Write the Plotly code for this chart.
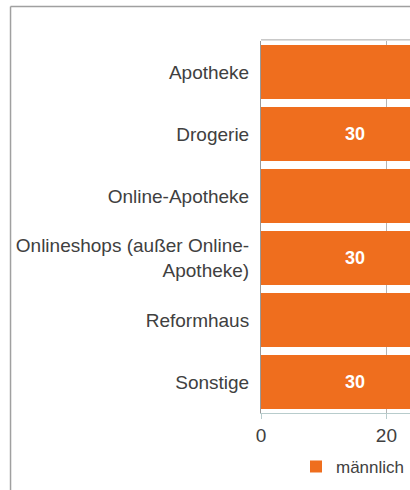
import plotly.graph_objects as go

categories = ["Apotheke", "Drogerie", "Online-Apotheke",
              "Onlineshops (außer Online-<br>Apotheke)", "Reformhaus", "Sonstige"]
maennlich = [30, 30, 30, 30, 30, 30]
bar_text = ["", "30", "", "30", "", "30"]
x_ticks = [0, 20]

fig = go.Figure()
fig.add_trace(go.Bar(
    y=categories, x=maennlich, orientation="h", name="männlich",
    marker=dict(color="#EF6E1E", line=dict(width=0)),
    text=bar_text, textposition="inside", insidetextanchor="middle",
    textfont=dict(family="Liberation Sans", size=18, color="white", weight="bold"),
    cliponaxis=True,
))

fig.update_layout(
    width=410, height=490,
    margin=dict(l=261, r=0, t=41, b=77),
    paper_bgcolor="white", plot_bgcolor="white",
    bargap=0.13,
    font=dict(family="Liberation Sans", size=19, color="#404040"),
    showlegend=True,
    legend=dict(orientation="h", x=1.0, xanchor="right", y=-0.145, yanchor="middle",
                font=dict(size=17, color="#404040"), itemwidth=30),
    xaxis=dict(range=[0, 23.76], tickvals=x_ticks, showgrid=True, gridcolor="#b4b4b4",
               gridwidth=1, zeroline=False, showline=True, linecolor="#b8cccc",
               ticks="outside", ticklen=5, tickcolor="#b8cccc",
               tickfont=dict(size=19, color="#404040")),
    yaxis=dict(autorange="reversed", showline=True, linecolor="#999999", ticks="",
               ticklabelstandoff=7, showgrid=False,
               tickfont=dict(size=19, color="#404040")),
    shapes=[
        dict(type="line", xref="paper", yref="paper", x0=0, x1=1, y0=1.003, y1=1.003,
             line=dict(color="#a8a8a8", width=1)),
        dict(type="line", xref="paper", yref="paper", x0=-1.681, x1=1.2, y0=1.0927, y1=1.0927,
             line=dict(color="#a0a0a0", width=1.5)),
        dict(type="line", xref="paper", yref="paper", x0=-1.681, x1=-1.681, y0=-0.3, y1=1.0927,
             line=dict(color="#a0a0a0", width=1.5)),
    ],
)

fig.write_html("out.html", config={"displayModeBar": False},
               post_script="document.body.style.margin='0';document.body.style.overflow='hidden';")
